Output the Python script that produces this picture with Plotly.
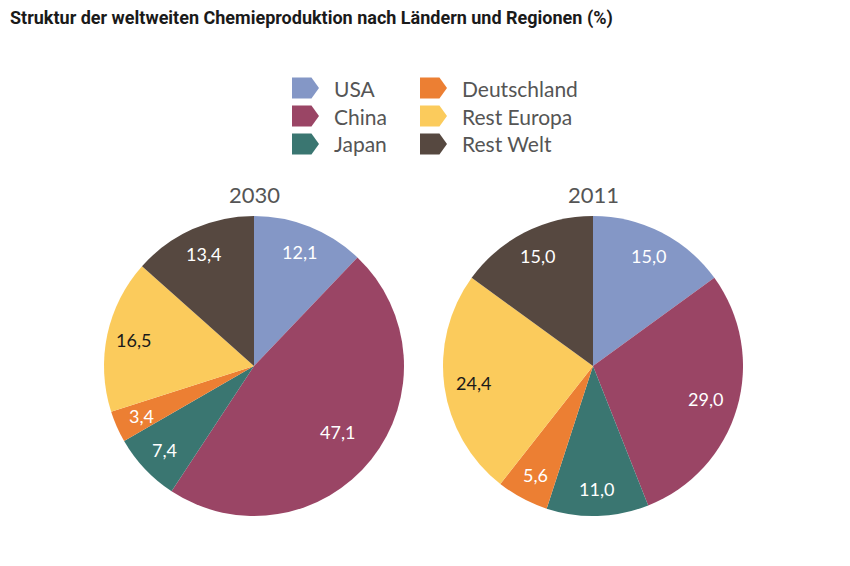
import math
import plotly.graph_objects as go

categories = ["USA", "China", "Japan", "Deutschland", "Rest Europa", "Rest Welt"]
values_2030 = [12.1, 47.1, 7.4, 3.4, 16.5, 13.4]
values_2011 = [15.0, 29.0, 11.0, 5.6, 24.4, 15.0]
years = ["2030", "2011"]
colors = ["#8497c6", "#9a4565", "#3a7671", "#ec7f33", "#fbcb5c", "#564840"]
text_colors = ["white", "white", "white", "white", "#1a1a1a", "white"]

W, H = 850, 566
OFF = 8  # page body margin
FONT = "Lato, Open Sans, sans-serif"

def fmt(v):
    return f"{v:.1f}".replace(".", ",")

def px(x):
    return (x - OFF) / W

def py(y):
    return 1 - (y - OFF) / H

fig = go.Figure()
annotations = []

centers = [(254, 366), (593, 366)]
R = 150
for vals, (cx, cy) in zip([values_2030, values_2011], centers):
    fig.add_trace(go.Pie(
        labels=categories, values=vals, sort=False, direction="clockwise", rotation=0,
        textinfo="none",
        marker=dict(colors=colors, line=dict(width=0)),
        domain=dict(x=[px(cx - R), px(cx + R)], y=[py(cy + R), py(cy - R)]),
        showlegend=False, hoverinfo="label+value",
    ))
    total = sum(vals)
    cum = 0.0
    for v, tc in zip(vals, text_colors):
        p = v / total
        th = 2 * math.pi * (cum + p / 2)
        cum += p
        rf = 0.82 - 0.4 * max(0.0, p - 0.2)
        lx = cx + rf * R * math.sin(th)
        ly = cy - rf * R * math.cos(th)
        annotations.append(dict(text=fmt(v), x=px(lx), y=py(ly), xref="paper", yref="paper",
                                showarrow=False, xanchor="center", yanchor="middle",
                                font=dict(size=18, color=tc, family=FONT)))

for yr, (cx, cy) in zip(years, centers):
    annotations.append(dict(text=yr, x=px(cx), y=py(194), xref="paper", yref="paper",
                            showarrow=False, xanchor="center", yanchor="middle",
                            font=dict(size=22, color="#555555", family=FONT)))

TITLE = "Struktur der weltweiten Chemieproduktion nach Ländern und Regionen (%)"
annotations.append(dict(text=f"<b>{TITLE}</b>",
                        x=px(8), y=py(18), xref="paper", yref="paper", showarrow=False,
                        xanchor="left", yanchor="middle",
                        font=dict(size=18, color="#1a1a1a", family="Roboto, Liberation Sans, sans-serif")))

shapes = []
legend_pos = [(292, 88), (292, 116), (292, 144), (420, 88), (420, 116), (420, 144)]
sw, sh = 27, 21
for cat, col, (x0, ym) in zip(categories, colors, legend_pos):
    y0, y1 = ym - sh / 2, ym + sh / 2
    pts = [(x0, y0), (x0 + sw * 0.72, y0), (x0 + sw, ym), (x0 + sw * 0.72, y1), (x0, y1)]
    path = "M " + " L ".join(f"{px(a):.5f},{py(b):.5f}" for a, b in pts) + " Z"
    shapes.append(dict(type="path", path=path, xref="paper", yref="paper",
                       fillcolor=col, line=dict(width=0)))
    annotations.append(dict(text=cat, x=px(x0 + 40), y=py(ym), xref="paper", yref="paper",
                            showarrow=False, xanchor="left", yanchor="middle",
                            font=dict(size=21, color="#555555", family=FONT)))

fig.update_layout(width=W, height=H, margin=dict(l=0, r=0, t=0, b=0),
                  paper_bgcolor="white", plot_bgcolor="white",
                  annotations=annotations, shapes=shapes)

fig.write_html("out.html")
